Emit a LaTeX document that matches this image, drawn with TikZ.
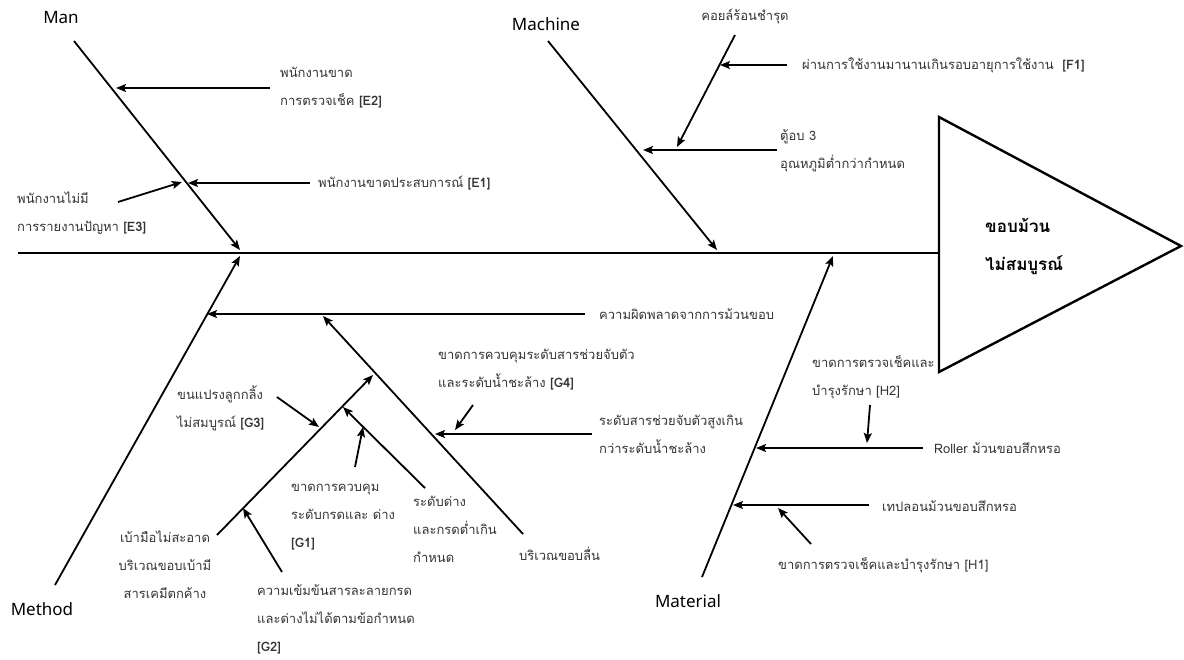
\documentclass[tikz,border=0pt]{standalone}
\usepackage{fontspec}
\setmainfont[Script=Thai]{Loma}
\newfontfamily\catfont{Noto Sans}
\usetikzlibrary{arrows.meta}
\newcommand\tagb[1]{\textbf{#1}}
\begin{document}
\begin{tikzpicture}[x=1pt,y=-1pt,
  spine/.style={line width=2.2pt},
  headbox/.style={line width=2.4pt,line join=miter},
  arr/.style={line width=1.8pt,-{Stealth[length=10pt,width=8pt,inset=2pt]}},
  lbl/.style={font=\fontsize{13}{28}\selectfont,text=black!80,inner sep=0pt,align=left,anchor=west},
  lblc/.style={lbl,align=center,anchor=center},
  cat/.style={font=\catfont\fontsize{17}{20}\selectfont,inner sep=0pt},
  effect/.style={font=\bfseries\fontsize{17}{38}\selectfont,inner sep=0pt,align=left,anchor=west}]
\useasboundingbox (0,0) rectangle (1184,659);

% spine and effect head
\coordinate (spL) at (18,253);
\coordinate (spR) at (939,253);
\coordinate (hT) at (939,117);
\coordinate (hA) at (1181,246);
\coordinate (hB) at (939,372);
\draw[spine] (spL) -- (spR);
\draw[headbox] (hT) -- (hA) -- (hB) -- cycle;
\node[effect] (eff) at (985,246) {ขอบม้วน\\ไม่สมบูรณ์};

% Man
\coordinate (manS) at (74,41);
\coordinate (manE) at (240,250);
\draw[arr] (manS) -- (manE);
\node[cat] (man) at (61,18) {Man};
\coordinate (e2s) at (270,88);
\coordinate (e2t) at (116,88);
\draw[arr] (e2s) -- (e2t);
\node[lbl] (e2) at (280,88) {พนักงานขาด\\การตรวจเช็ค \tagb{[E2]}};
\coordinate (e1s) at (310,183);
\coordinate (e1t) at (188,183);
\draw[arr] (e1s) -- (e1t);
\node[lbl] (e1) at (318,183) {พนักงานขาดประสบการณ์ \tagb{[E1]}};
\coordinate (e3s) at (118,202);
\coordinate (e3t) at (182,182);
\draw[arr] (e3s) -- (e3t);
\node[lbl] (e3) at (17,213) {พนักงานไม่มี\\การรายงานปัญหา \tagb{[E3]}};

% Machine
\coordinate (macS) at (548,41);
\coordinate (macE) at (717,250);
\draw[arr] (macS) -- (macE);
\node[cat] (mac) at (546,24) {Machine};
\coordinate (ovs) at (777,150);
\coordinate (ovt) at (643,150);
\draw[arr] (ovs) -- (ovt);
\node[lbl] (oven) at (780,151) {ตู้อบ 3\\อุณหภูมิต่ำกว่ากำหนด};
\coordinate (coS) at (735,35);
\coordinate (coE) at (677,147);
\draw[arr] (coS) -- (coE);
\node[lblc] (coil) at (745,16) {คอยล์ร้อนชำรุด};
\coordinate (f1s) at (787,65);
\coordinate (f1t) at (720,65);
\draw[arr] (f1s) -- (f1t);
\node[lbl] (f1) at (802,65) {ผ่านการใช้งานมานานเกินรอบอายุการใช้งาน \ \tagb{[F1]}};

% Method
\coordinate (metS) at (55,585);
\coordinate (metE) at (240,256);
\draw[arr] (metS) -- (metE);
\node[cat] (met) at (42,609) {Method};
\coordinate (rls) at (585,314);
\coordinate (rlt) at (207,314);
\draw[arr] (rls) -- (rlt);
\node[lbl] (roll) at (599,314) {ความผิดพลาดจากการม้วนขอบ};
\coordinate (slS) at (523,534);
\coordinate (slE) at (323,316);
\draw[arr] (slS) -- (slE);
\node[lbl] (slip) at (519,554) {บริเวณขอบลื่น};
\coordinate (ags) at (592,434);
\coordinate (agt) at (435,434);
\draw[arr] (ags) -- (agt);
\node[lbl] (agent) at (599,434) {ระดับสารช่วยจับตัวสูงเกิน\\กว่าระดับน้ำชะล้าง};
\coordinate (g4s) at (473,405);
\coordinate (g4t) at (455,430);
\draw[arr] (g4s) -- (g4t);
\node[lbl] (g4) at (438,370) {ขาดการควบคุมระดับสารช่วยจับตัว\\และระดับน้ำชะล้าง \tagb{[G4]}};
\coordinate (soS) at (217,535);
\coordinate (soE) at (373,375);
\draw[arr] (soS) -- (soE);
\node[lblc] (sock) at (165,565) {เบ้ามือไม่สะอาด\\บริเวณขอบเบ้ามี\\สารเคมีตกค้าง};
\coordinate (g3s) at (277,397);
\coordinate (g3t) at (319,427);
\draw[arr] (g3s) -- (g3t);
\node[lbl] (g3) at (177,408) {ขนแปรงลูกกลิ้ง\\ไม่สมบูรณ์ \tagb{[G3]}};
\coordinate (phS) at (425,488);
\coordinate (phE) at (343,407);
\draw[arr] (phS) -- (phE);
\node[lbl] (ph) at (413,529) {ระดับด่าง\\และกรดต่ำเกิน\\กำหนด};
\coordinate (g1s) at (355,467);
\coordinate (g1t) at (363,427);
\draw[arr] (g1s) -- (g1t);
\node[lbl] (g1) at (291,517) {ขาดการควบคุม\\ระดับกรดและ ด่าง\\\tagb{[G1]}};
\coordinate (g2s) at (282,572);
\coordinate (g2t) at (243,508);
\draw[arr] (g2s) -- (g2t);
\node[lbl] (g2) at (257,619) {ความเข้มข้นสารละลายกรด\\และด่างไม่ได้ตามข้อกำหนด\\\tagb{[G2]}};

% Material
\coordinate (matS) at (702,577);
\coordinate (matE) at (833,256);
\draw[arr] (matS) -- (matE);
\node[cat] (mat) at (688,601) {Material};
\coordinate (ros) at (923,448);
\coordinate (rot) at (756,448);
\draw[arr] (ros) -- (rot);
\node[lbl] (roller) at (934,448) {Roller ม้วนขอบสึกหรอ};
\coordinate (h2s) at (870,405);
\coordinate (h2t) at (867,443);
\draw[arr] (h2s) -- (h2t);
\node[lbl] (h2) at (812,377) {ขาดการตรวจเช็คและ\\บำรุงรักษา [H2]};
\coordinate (tfs) at (869,505);
\coordinate (tft) at (733,505);
\draw[arr] (tfs) -- (tft);
\node[lbl] (teflon) at (882,506) {เทปลอนม้วนขอบสึกหรอ};
\coordinate (h1s) at (811,544);
\coordinate (h1t) at (778,508);
\draw[arr] (h1s) -- (h1t);
\node[lbl] (h1) at (778,565) {ขาดการตรวจเช็คและบำรุงรักษา [H1]};
\end{tikzpicture}
\end{document}
